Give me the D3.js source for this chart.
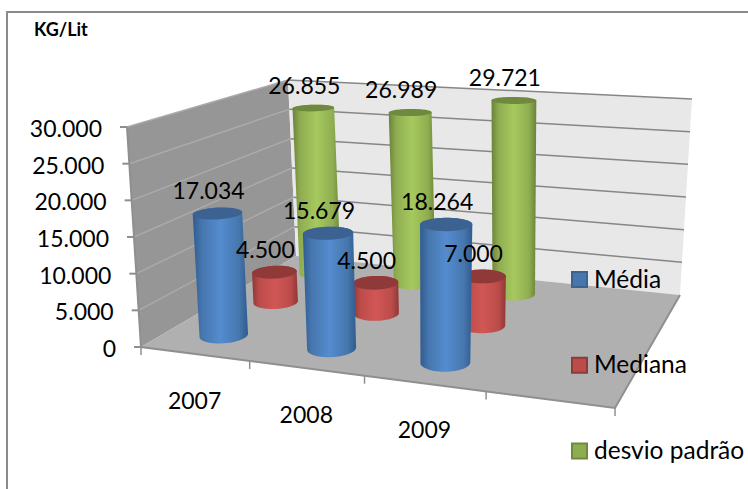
<!DOCTYPE html>
<html>
<head>
<meta charset="utf-8">
<script src="https://cdn.jsdelivr.net/npm/d3@7"></script>
<style>
  html, body { margin: 0; padding: 0; background: #fff; }
  svg { display: block; }
  text { font-family: Lato, "Open Sans", sans-serif; fill: #000; }
</style>
</head>
<body>
<div id="chart"></div>
<script>
// Data
const categories = ["2007", "2008", "2009", ""];
const seriesNames = ["Média", "Mediana", "desvio padrão"];
const media = [17034, 15679, 18264];
const mediana = [4500, 4500, 7000];
const desvio = [26855, 26989, 29721];
const yTicks = [0, 5000, 10000, 15000, 20000, 25000, 30000];
const yMax = 30000;
const yUnit = "KG/Lit";

const seriesValues = [media, mediana, desvio];
const seriesColors = [
    {edge: "#2f5c90", mid: "#4676ad", light: "#548ccf", top: "#3c6291"},
    {edge: "#8f3836", mid: "#bb4c4a", light: "#d15755", top: "#8f3a38"},
    {edge: "#69833a", mid: "#8fad50", light: "#a6c95f", top: "#6f8a3e"}
];

const width = 748;
const height = 489;

// Corners of the 3D box in the picture: floor and the plane at yMax
const floorQuad = [[141, 347], [615, 408], [680, 295], [296, 256]];
const topQuad = [[127, 127], [640, 162], [692, 99], [288, 80]];

// Maps the unit square onto a quad (perspective)
function quadMap(q) {
    const [p0, p1, p2, p3] = q;
    const dx1 = p1[0] - p2[0], dx2 = p3[0] - p2[0], sx = p0[0] - p1[0] + p2[0] - p3[0];
    const dy1 = p1[1] - p2[1], dy2 = p3[1] - p2[1], sy = p0[1] - p1[1] + p2[1] - p3[1];
    const det = dx1 * dy2 - dx2 * dy1;
    const g = (sx * dy2 - dx2 * sy) / det;
    const h = (dx1 * sy - sx * dy1) / det;
    const a = p1[0] - p0[0] + g * p1[0], b = p3[0] - p0[0] + h * p3[0];
    const d = p1[1] - p0[1] + g * p1[1], e = p3[1] - p0[1] + h * p3[1];
    return (u, v) => {
        const w = g * u + h * v + 1;
        return [(a * u + b * v + p0[0]) / w, (d * u + e * v + p0[1]) / w];
    };
}
const floorAt = quadMap(floorQuad);
const topAt = quadMap(topQuad);

// Scales: category along the front edge, series in depth, value upwards
const xScale = d3.scaleBand().domain(categories).range([0, 1]);
const zScale = d3.scaleBand().domain(seriesNames).range([0, 1]);
const yScale = d3.scaleLinear().domain([0, yMax]).range([0, 1]);

function project(u, v, value) {
    const f = floorAt(u, v), t = topAt(u, v), k = yScale(value);
    return [f[0] + (t[0] - f[0]) * k, f[1] + (t[1] - f[1]) * k];
}

const fmt = d3.formatLocale({decimal: ",", thousands: ".", grouping: [3], currency: ["", ""]}).format(",d");
const line = d3.line();

const svg = d3.select("#chart")
    .append("svg")
    .attr("width", width)
    .attr("height", height);

// Chart frame, cut off by the picture on the right and at the bottom
svg.append("path")
    .attr("d", `M7,${height}V12H${width}`)
    .attr("fill", "none")
    .attr("stroke", "#8a8a8a")
    .attr("stroke-width", 2);

svg.append("text")
    .attr("x", 34)
    .attr("y", 36)
    .style("font-size", "18px")
    .style("font-weight", "bold")
    .text(yUnit);

// Walls and floor
const walls = [
    {pts: [[0, 0, 0], [0, 1, 0], [0, 1, yMax], [0, 0, yMax]], fill: "#969696"},
    {pts: [[0, 1, 0], [1, 1, 0], [1, 1, yMax], [0, 1, yMax]], fill: "#e8e8e8"},
    {pts: [[0, 0, 0], [1, 0, 0], [1, 1, 0], [0, 1, 0]], fill: "#b0b0b0"}
];
svg.selectAll("path.wall")
    .data(walls)
    .enter()
    .append("path")
    .attr("class", "wall")
    .attr("d", d => line(d.pts.map(p => project(p[0], p[1], p[2]))) + "Z")
    .attr("fill", d => d.fill);

// Gridlines on the two walls
svg.selectAll("path.gridLeft")
    .data(yTicks.slice(1))
    .enter()
    .append("path")
    .attr("class", "gridLeft")
    .attr("d", d => line([project(0, 0, d), project(0, 1, d)]))
    .attr("stroke", "#aaaaaa")
    .attr("stroke-width", 1.5)
    .attr("fill", "none");

svg.selectAll("path.gridBack")
    .data(yTicks.slice(1))
    .enter()
    .append("path")
    .attr("class", "gridBack")
    .attr("d", d => line([project(0, 1, d), project(1, 1, d)]))
    .attr("stroke", "#868686")
    .attr("stroke-width", 1.5)
    .attr("fill", "none");

// Floor edges and value axis line
svg.append("path")
    .attr("d", line([project(0, 0, yMax), project(0, 0, 0), project(1, 0, 0), project(1, 1, 0)]))
    .attr("stroke", "#8f8f8f")
    .attr("stroke-width", 2)
    .attr("fill", "none");

// Value axis ticks and labels
yTicks.forEach(t => {
    const p = project(0, 0, t);
    svg.append("line")
        .attr("x1", p[0] - 7)
        .attr("x2", p[0])
        .attr("y1", p[1])
        .attr("y2", p[1])
        .attr("stroke", "#8f8f8f")
        .attr("stroke-width", 2);
    svg.append("text")
        .attr("x", p[0] - 25)
        .attr("y", p[1] + 10)
        .attr("text-anchor", "end")
        .style("font-size", "23px")
        .text(fmt(t));
});

// Category ticks and labels
const xEdges = categories.map(c => xScale(c)).concat([1]);
xEdges.forEach(u => {
    const p = project(u, 0, 0);
    svg.append("line")
        .attr("x1", p[0])
        .attr("x2", p[0])
        .attr("y1", p[1])
        .attr("y2", p[1] + 8)
        .attr("stroke", "#8f8f8f")
        .attr("stroke-width", 1.5);
});
categories.forEach(c => {
    const p = project(xScale(c) + xScale.bandwidth() / 2, 0, 0);
    svg.append("text")
        .attr("x", p[0])
        .attr("y", p[1] + 55)
        .attr("text-anchor", "middle")
        .style("font-size", "23px")
        .text(c);
});

// Gradients for the cylinder sides
const defs = svg.append("defs");
seriesColors.forEach((c, i) => {
    const grad = defs.append("linearGradient").attr("id", "cyl" + i);
    [[0, c.edge], [0.16, c.mid], [0.5, c.light], [0.84, c.mid], [1, c.edge]].forEach(s => {
        grad.append("stop").attr("offset", s[0]).attr("stop-color", s[1]);
    });
});

// Cylinder radius in floor units, chosen so the ellipses lie flat
const rU = 0.05;
const rV = 0.072;
const angles = d3.range(0, 2 * Math.PI, Math.PI / 30);

function ring(u, v, value) {
    return angles.map(a => project(u + rU * Math.cos(a), v + rV * Math.sin(a), value));
}

// Cylinders, back row first
const labels = [];
d3.range(seriesNames.length - 1, -1, -1).forEach(s => {
    seriesValues[s].forEach((value, i) => {
        const u = xScale(categories[i]) + xScale.bandwidth() / 2;
        const v = zScale(seriesNames[s]) + zScale.bandwidth() / 2;
        const bottom = ring(u, v, 0);
        const top = ring(u, v, value);
        svg.append("path")
            .attr("d", line(d3.polygonHull(bottom.concat(top))) + "Z")
            .attr("fill", `url(#cyl${s})`);
        svg.append("path")
            .attr("d", line(top) + "Z")
            .attr("fill", seriesColors[s].top);
        labels.push({value, p: project(u, v, value)});
    });
});

// Value labels sit above everything
svg.selectAll("text.valueLabel")
    .data(labels)
    .enter()
    .append("text")
    .attr("class", "valueLabel")
    .attr("x", d => d.p[0] - 9)
    .attr("y", d => d.p[1] - 14)
    .attr("text-anchor", "middle")
    .style("font-size", "23px")
    .text(d => fmt(d.value));

// Legend
const legendY = d3.scalePoint().domain(seriesNames).range([279.5, 451]);
seriesNames.forEach((name, i) => {
    svg.append("rect")
        .attr("x", 572)
        .attr("y", legendY(name) - 7.5)
        .attr("width", 15)
        .attr("height", 15)
        .attr("fill", seriesColors[i].mid)
        .attr("stroke", seriesColors[i].top)
        .attr("stroke-width", 2);
    svg.append("text")
        .attr("x", 594)
        .attr("y", legendY(name) + 8)
        .style("font-size", "24.5px")
        .text(name);
});
</script>
</body>
</html>
